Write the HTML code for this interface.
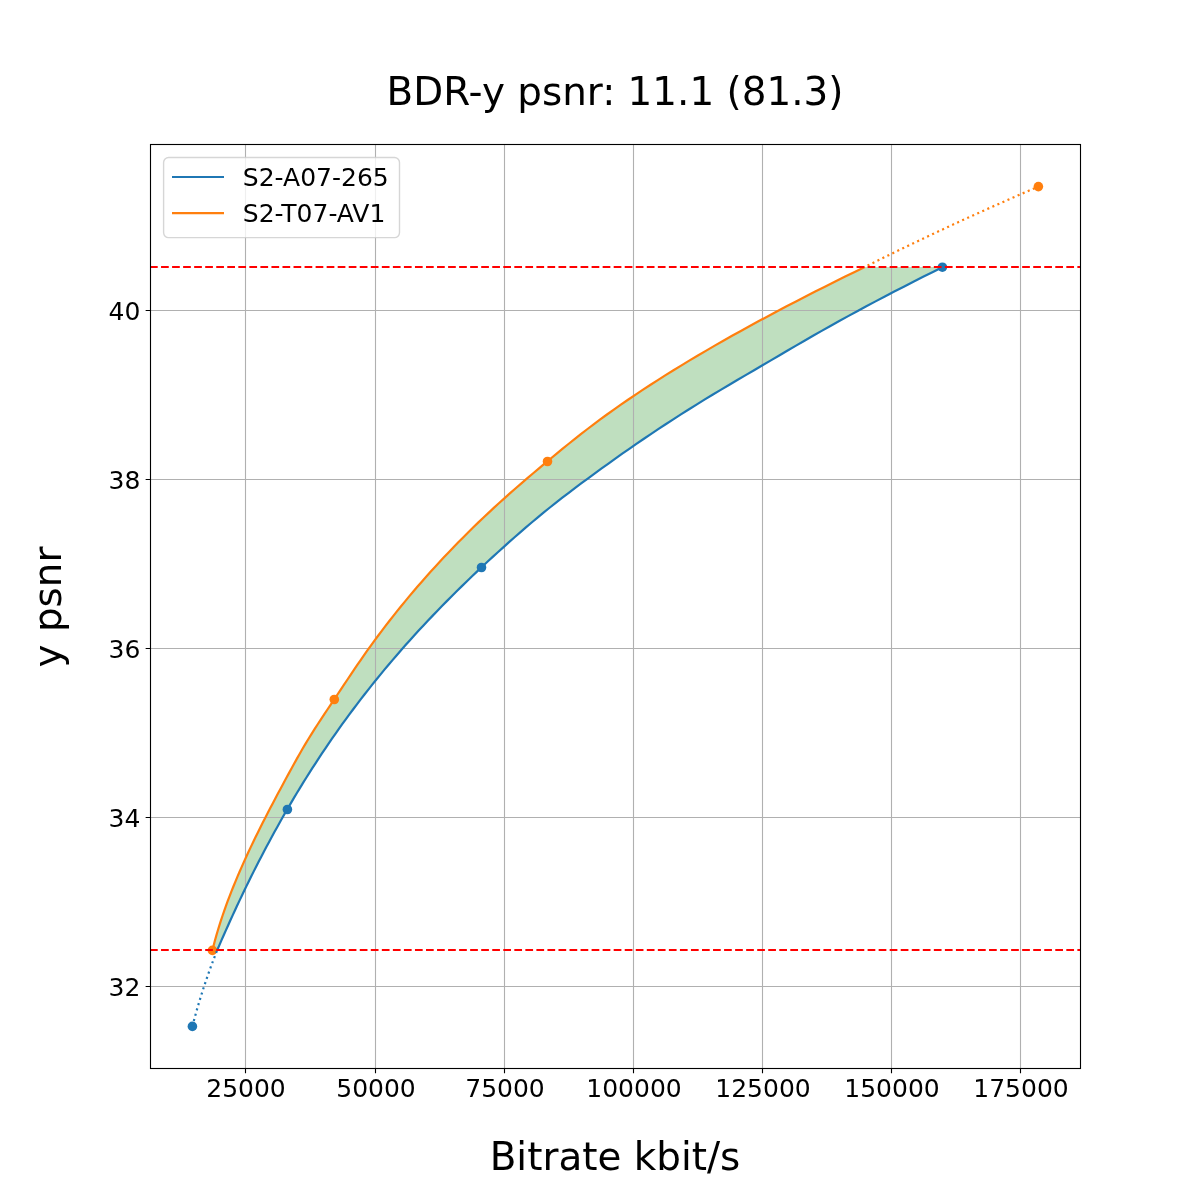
<!DOCTYPE html>
<html lang="en"><head><meta charset="utf-8"><title>BDR-y psnr</title>
<style>html,body{margin:0;padding:0;background:#fff}svg{display:block}text{font-family:"DejaVu Sans","Liberation Sans",sans-serif;fill:#000}</style></head>
<body>
<svg width="1200" height="1200" viewBox="0 0 1200 1200">
<rect width="1200" height="1200" fill="#fff"/>
<path d="M217.27,950.00 L219.39,945.09 L221.53,940.17 L223.69,935.26 L225.86,930.35 L228.06,925.43 L230.28,920.52 L232.52,915.60 L234.78,910.69 L237.06,905.78 L239.37,900.86 L241.71,895.95 L244.06,891.04 L246.44,886.12 L248.85,881.21 L251.28,876.29 L253.74,871.38 L256.23,866.47 L258.74,861.55 L261.28,856.64 L263.85,851.73 L266.45,846.81 L269.08,841.90 L271.73,836.99 L274.42,832.07 L277.14,827.16 L279.88,822.24 L282.66,817.33 L285.47,812.42 L288.31,807.50 L291.19,802.59 L294.10,797.68 L297.04,792.76 L300.03,787.85 L303.04,782.94 L306.10,778.02 L309.19,773.11 L312.32,768.19 L315.50,763.28 L318.71,758.37 L321.96,753.45 L325.26,748.54 L328.59,743.63 L331.97,738.71 L335.40,733.80 L338.87,728.88 L342.38,723.97 L345.94,719.06 L349.55,714.14 L353.21,709.23 L356.91,704.32 L360.66,699.40 L364.47,694.49 L368.32,689.58 L372.23,684.66 L376.18,679.75 L380.19,674.83 L384.25,669.92 L388.37,665.01 L392.53,660.09 L396.75,655.18 L401.02,650.27 L405.35,645.35 L409.73,640.44 L414.17,635.53 L418.67,630.61 L423.22,625.70 L427.82,620.78 L432.49,615.87 L437.21,610.96 L441.98,606.04 L446.81,601.13 L451.70,596.22 L456.64,591.30 L461.63,586.39 L466.68,581.47 L471.79,576.56 L476.94,571.65 L482.16,566.73 L487.42,561.82 L492.74,556.91 L498.12,551.99 L503.55,547.08 L509.03,542.17 L514.58,537.25 L520.20,532.34 L525.90,527.42 L531.67,522.51 L537.54,517.60 L543.50,512.68 L549.56,507.77 L555.72,502.86 L562.00,497.94 L568.40,493.03 L574.89,488.12 L581.47,483.20 L588.13,478.29 L594.86,473.37 L601.63,468.46 L608.45,463.55 L615.33,458.63 L622.26,453.72 L629.27,448.81 L636.37,443.89 L643.56,438.98 L650.83,434.06 L658.21,429.15 L665.68,424.24 L673.24,419.32 L680.90,414.41 L688.66,409.50 L696.52,404.58 L704.47,399.67 L712.53,394.76 L720.70,389.84 L728.96,384.93 L737.29,380.01 L745.68,375.10 L754.08,370.19 L762.48,365.27 L770.86,360.36 L779.23,355.45 L787.61,350.53 L796.03,345.62 L804.50,340.71 L813.04,335.79 L821.67,330.88 L830.40,325.96 L839.23,321.05 L848.15,316.14 L857.18,311.22 L866.31,306.31 L875.54,301.40 L884.86,296.48 L894.28,291.57 L903.80,286.65 L913.41,281.74 L923.11,276.83 L932.91,271.91 L942.79,267.00 L864.75,267.00 L854.66,271.92 L844.65,276.83 L834.74,281.75 L824.92,286.67 L815.19,291.58 L805.55,296.50 L796.01,301.42 L786.56,306.33 L777.22,311.25 L767.98,316.17 L758.84,321.08 L749.80,326.00 L740.87,330.92 L732.05,335.83 L723.34,340.75 L714.74,345.66 L706.26,350.58 L697.89,355.50 L689.64,360.41 L681.50,365.33 L673.49,370.25 L665.59,375.16 L657.82,380.08 L650.18,385.00 L642.66,389.91 L635.26,394.83 L627.99,399.75 L620.86,404.66 L613.85,409.58 L606.98,414.50 L600.24,419.41 L593.64,424.33 L587.17,429.25 L580.83,434.16 L574.59,439.08 L568.44,444.00 L562.38,448.91 L556.39,453.83 L550.45,458.75 L544.56,463.66 L538.71,468.58 L532.89,473.49 L527.11,478.41 L521.38,483.33 L515.72,488.24 L510.12,493.16 L504.60,498.08 L499.15,502.99 L493.79,507.91 L488.50,512.83 L483.28,517.74 L478.14,522.66 L473.07,527.58 L468.08,532.49 L463.15,537.41 L458.29,542.33 L453.50,547.24 L448.78,552.16 L444.12,557.08 L439.54,561.99 L435.01,566.91 L430.55,571.83 L426.15,576.74 L421.82,581.66 L417.54,586.58 L413.33,591.49 L409.18,596.41 L405.09,601.33 L401.06,606.24 L397.09,611.16 L393.17,616.07 L389.32,620.99 L385.52,625.91 L381.78,630.82 L378.09,635.74 L374.46,640.66 L370.89,645.57 L367.38,650.49 L363.91,655.41 L360.50,660.32 L357.12,665.24 L353.77,670.16 L350.45,675.07 L347.16,679.99 L343.87,684.91 L340.59,689.82 L337.32,694.74 L334.03,699.66 L330.74,704.57 L327.45,709.49 L324.18,714.41 L320.93,719.32 L317.72,724.24 L314.56,729.16 L311.45,734.07 L308.41,738.99 L305.45,743.91 L302.56,748.82 L299.73,753.74 L296.95,758.65 L294.22,763.57 L291.51,768.49 L288.82,773.40 L286.14,778.32 L283.48,783.24 L280.83,788.15 L278.19,793.07 L275.57,797.99 L272.98,802.90 L270.40,807.82 L267.84,812.74 L265.31,817.65 L262.81,822.57 L260.33,827.49 L257.89,832.40 L255.47,837.32 L253.09,842.24 L250.74,847.15 L248.43,852.07 L246.15,856.99 L243.92,861.90 L241.72,866.82 L239.57,871.74 L237.47,876.65 L235.41,881.57 L233.40,886.48 L231.44,891.40 L229.53,896.32 L227.67,901.23 L225.87,906.15 L224.12,911.07 L222.44,915.98 L220.81,920.90 L219.24,925.82 L217.74,930.73 L216.31,935.65 L214.94,940.57 L213.64,945.48 L212.40,950.40Z" fill="#008000" fill-opacity="0.25" stroke="none"/>
<circle cx="192.4" cy="1026.4" r="4.8" fill="#1f77b4"/>
<circle cx="287.4" cy="809.5" r="4.8" fill="#1f77b4"/>
<circle cx="481.5" cy="567.5" r="4.8" fill="#1f77b4"/>
<circle cx="942.4" cy="267.2" r="4.8" fill="#1f77b4"/>
<circle cx="212.4" cy="950.4" r="4.8" fill="#ff7f0e"/>
<circle cx="334.3" cy="699.5" r="4.8" fill="#ff7f0e"/>
<circle cx="547.5" cy="461.5" r="4.8" fill="#ff7f0e"/>
<circle cx="1038.4" cy="186.6" r="4.8" fill="#ff7f0e"/>
<path d="M245.5,144.5V1068.5M375.5,144.5V1068.5M504.5,144.5V1068.5M633.5,144.5V1068.5M762.5,144.5V1068.5M891.5,144.5V1068.5M1020.5,144.5V1068.5M150.5,986.5H1080.5M150.5,817.5H1080.5M150.5,648.5H1080.5M150.5,479.5H1080.5M150.5,310.5H1080.5" stroke="#b0b0b0" stroke-width="1.11" fill="none"/>
<path d="M245.5,1068.5v4.86M375.5,1068.5v4.86M504.5,1068.5v4.86M633.5,1068.5v4.86M762.5,1068.5v4.86M891.5,1068.5v4.86M1020.5,1068.5v4.86M150.5,986.5h-4.86M150.5,817.5h-4.86M150.5,648.5h-4.86M150.5,479.5h-4.86M150.5,310.5h-4.86" stroke="#000" stroke-width="1.11" fill="none"/>
<path d="M217.27,950.00 L219.39,945.09 L221.53,940.17 L223.69,935.26 L225.86,930.35 L228.06,925.43 L230.28,920.52 L232.52,915.60 L234.78,910.69 L237.06,905.78 L239.37,900.86 L241.71,895.95 L244.06,891.04 L246.44,886.12 L248.85,881.21 L251.28,876.29 L253.74,871.38 L256.23,866.47 L258.74,861.55 L261.28,856.64 L263.85,851.73 L266.45,846.81 L269.08,841.90 L271.73,836.99 L274.42,832.07 L277.14,827.16 L279.88,822.24 L282.66,817.33 L285.47,812.42 L288.31,807.50 L291.19,802.59 L294.10,797.68 L297.04,792.76 L300.03,787.85 L303.04,782.94 L306.10,778.02 L309.19,773.11 L312.32,768.19 L315.50,763.28 L318.71,758.37 L321.96,753.45 L325.26,748.54 L328.59,743.63 L331.97,738.71 L335.40,733.80 L338.87,728.88 L342.38,723.97 L345.94,719.06 L349.55,714.14 L353.21,709.23 L356.91,704.32 L360.66,699.40 L364.47,694.49 L368.32,689.58 L372.23,684.66 L376.18,679.75 L380.19,674.83 L384.25,669.92 L388.37,665.01 L392.53,660.09 L396.75,655.18 L401.02,650.27 L405.35,645.35 L409.73,640.44 L414.17,635.53 L418.67,630.61 L423.22,625.70 L427.82,620.78 L432.49,615.87 L437.21,610.96 L441.98,606.04 L446.81,601.13 L451.70,596.22 L456.64,591.30 L461.63,586.39 L466.68,581.47 L471.79,576.56 L476.94,571.65 L482.16,566.73 L487.42,561.82 L492.74,556.91 L498.12,551.99 L503.55,547.08 L509.03,542.17 L514.58,537.25 L520.20,532.34 L525.90,527.42 L531.67,522.51 L537.54,517.60 L543.50,512.68 L549.56,507.77 L555.72,502.86 L562.00,497.94 L568.40,493.03 L574.89,488.12 L581.47,483.20 L588.13,478.29 L594.86,473.37 L601.63,468.46 L608.45,463.55 L615.33,458.63 L622.26,453.72 L629.27,448.81 L636.37,443.89 L643.56,438.98 L650.83,434.06 L658.21,429.15 L665.68,424.24 L673.24,419.32 L680.90,414.41 L688.66,409.50 L696.52,404.58 L704.47,399.67 L712.53,394.76 L720.70,389.84 L728.96,384.93 L737.29,380.01 L745.68,375.10 L754.08,370.19 L762.48,365.27 L770.86,360.36 L779.23,355.45 L787.61,350.53 L796.03,345.62 L804.50,340.71 L813.04,335.79 L821.67,330.88 L830.40,325.96 L839.23,321.05 L848.15,316.14 L857.18,311.22 L866.31,306.31 L875.54,301.40 L884.86,296.48 L894.28,291.57 L903.80,286.65 L913.41,281.74 L923.11,276.83 L932.91,271.91 L942.79,267.00" stroke="#1f77b4" stroke-width="2.2" fill="none" stroke-linejoin="round"/>
<path d="M212.40,950.40 L213.64,945.48 L214.94,940.57 L216.31,935.65 L217.74,930.73 L219.24,925.82 L220.81,920.90 L222.44,915.98 L224.12,911.07 L225.87,906.15 L227.67,901.23 L229.53,896.32 L231.44,891.40 L233.40,886.48 L235.41,881.57 L237.47,876.65 L239.57,871.74 L241.72,866.82 L243.92,861.90 L246.15,856.99 L248.43,852.07 L250.74,847.15 L253.09,842.24 L255.47,837.32 L257.89,832.40 L260.33,827.49 L262.81,822.57 L265.31,817.65 L267.84,812.74 L270.40,807.82 L272.98,802.90 L275.57,797.99 L278.19,793.07 L280.83,788.15 L283.48,783.24 L286.14,778.32 L288.82,773.40 L291.51,768.49 L294.22,763.57 L296.95,758.65 L299.73,753.74 L302.56,748.82 L305.45,743.91 L308.41,738.99 L311.45,734.07 L314.56,729.16 L317.72,724.24 L320.93,719.32 L324.18,714.41 L327.45,709.49 L330.74,704.57 L334.03,699.66 L337.32,694.74 L340.59,689.82 L343.87,684.91 L347.16,679.99 L350.45,675.07 L353.77,670.16 L357.12,665.24 L360.50,660.32 L363.91,655.41 L367.38,650.49 L370.89,645.57 L374.46,640.66 L378.09,635.74 L381.78,630.82 L385.52,625.91 L389.32,620.99 L393.17,616.07 L397.09,611.16 L401.06,606.24 L405.09,601.33 L409.18,596.41 L413.33,591.49 L417.54,586.58 L421.82,581.66 L426.15,576.74 L430.55,571.83 L435.01,566.91 L439.54,561.99 L444.12,557.08 L448.78,552.16 L453.50,547.24 L458.29,542.33 L463.15,537.41 L468.08,532.49 L473.07,527.58 L478.14,522.66 L483.28,517.74 L488.50,512.83 L493.79,507.91 L499.15,502.99 L504.60,498.08 L510.12,493.16 L515.72,488.24 L521.38,483.33 L527.11,478.41 L532.89,473.49 L538.71,468.58 L544.56,463.66 L550.45,458.75 L556.39,453.83 L562.38,448.91 L568.44,444.00 L574.59,439.08 L580.83,434.16 L587.17,429.25 L593.64,424.33 L600.24,419.41 L606.98,414.50 L613.85,409.58 L620.86,404.66 L627.99,399.75 L635.26,394.83 L642.66,389.91 L650.18,385.00 L657.82,380.08 L665.59,375.16 L673.49,370.25 L681.50,365.33 L689.64,360.41 L697.89,355.50 L706.26,350.58 L714.74,345.66 L723.34,340.75 L732.05,335.83 L740.87,330.92 L749.80,326.00 L758.84,321.08 L767.98,316.17 L777.22,311.25 L786.56,306.33 L796.01,301.42 L805.55,296.50 L815.19,291.58 L824.92,286.67 L834.74,281.75 L844.65,276.83 L854.66,271.92 L864.75,267.00" stroke="#ff7f0e" stroke-width="2.2" fill="none" stroke-linejoin="round"/>
<path d="M192.40,1026.40 Q202.37,987.40 217.27,950.00" stroke="#1f77b4" stroke-width="2.2" stroke-dasharray="2.08 3.44" fill="none"/>
<path d="M864.75,267.00 Q950.40,224.26 1038.40,186.60" stroke="#ff7f0e" stroke-width="2.2" stroke-dasharray="2.08 3.44" stroke-dashoffset="2.38" fill="none"/>
<path d="M150,950H1081 M150,267H1081" stroke="#ff0000" stroke-width="2.2" stroke-dasharray="7.71 3.33" fill="none"/>
<rect x="150.5" y="144.5" width="930.0" height="924.0" fill="none" stroke="#000" stroke-width="1.11"/>
<text x="246.0" y="1096.8" font-size="25" text-anchor="middle">25000</text>
<text x="376.0" y="1096.8" font-size="25" text-anchor="middle">50000</text>
<text x="505.0" y="1096.8" font-size="25" text-anchor="middle">75000</text>
<text x="634.0" y="1096.8" font-size="25" text-anchor="middle">100000</text>
<text x="763.0" y="1096.8" font-size="25" text-anchor="middle">125000</text>
<text x="892.0" y="1096.8" font-size="25" text-anchor="middle">150000</text>
<text x="1021.0" y="1096.8" font-size="25" text-anchor="middle">175000</text>
<text x="140.3" y="996.0" font-size="25" text-anchor="end">32</text>
<text x="140.3" y="827.0" font-size="25" text-anchor="end">34</text>
<text x="140.3" y="658.0" font-size="25" text-anchor="end">36</text>
<text x="140.3" y="489.0" font-size="25" text-anchor="end">38</text>
<text x="140.3" y="320.0" font-size="25" text-anchor="end">40</text>
<text x="615" y="1170.4" font-size="38.89" text-anchor="middle">Bitrate kbit/s</text>
<text transform="translate(60.5,607) rotate(-90)" font-size="38.89" text-anchor="middle">y psnr</text>
<text x="615" y="105.2" font-size="38.89" text-anchor="middle">BDR-y psnr: 11.1 (81.3)</text>
<rect x="163.6" y="157.5" width="235.9" height="80.1" rx="5" ry="5" fill="#fff" fill-opacity="0.8" stroke="#cccccc" stroke-opacity="0.8" stroke-width="1.39"/>
<path d="M172,177H224" stroke="#1f77b4" stroke-width="2.2"/>
<path d="M172,213.2H224" stroke="#ff7f0e" stroke-width="2.2"/>
<text x="242.8" y="185.8" font-size="25">S2-A07-265</text>
<text x="242.8" y="222" font-size="25">S2-T07-AV1</text>
</svg>
</body></html>
